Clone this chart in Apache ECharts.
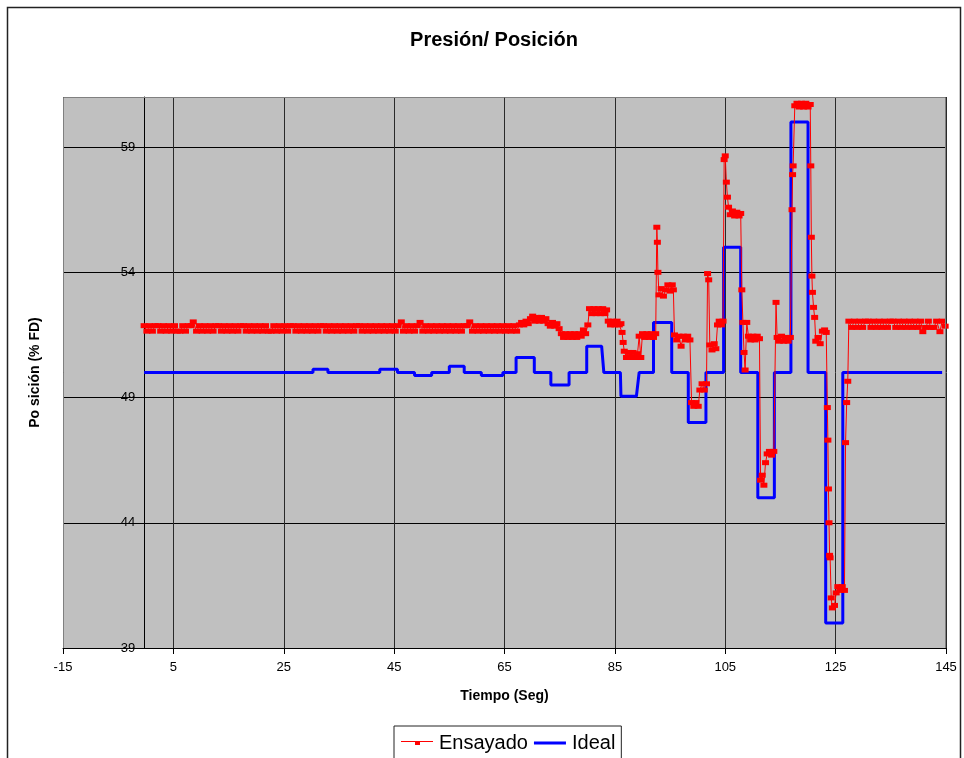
<!DOCTYPE html>
<html>
<head>
<meta charset="utf-8">
<script src="https://cdn.jsdelivr.net/npm/echarts@6/dist/echarts.min.js"></script>
<style>html,body{margin:0;padding:0;background:#fff}#c{width:964px;height:758px}</style>
</head>
<body>
<div id="c"></div>
<script>
// ---- data ----
const xTicks = [-15, 5, 25, 45, 65, 85, 105, 125, 145];
const yTicks = [39, 44, 49, 54, 59];

// Ideal (blue) step trace: [time, value]
const ideal = [
 [-0.3,50],[30.3,50],[30.3,50.13],[33.0,50.13],[33.0,50],[42.4,50],[42.4,50.13],[45.6,50.13],[45.6,50],
 [48.7,50],[48.7,49.88],[51.8,49.88],[51.8,50],[55.0,50],[55.0,50.25],[57.7,50.25],[57.7,50],
 [60.8,50],[60.8,49.88],[64.7,49.88],[64.7,50],[67.1,50],[67.1,50.6],[70.4,50.6],[70.4,50],
 [73.4,50],[73.4,49.5],[76.7,49.5],[76.7,50],[79.9,50],[79.9,51.05],[82.6,51.05],[83.0,50],
 [86.0,50],[86.1,49.05],[88.9,49.05],[89.4,50],[92.0,50],[92.0,52],[95.3,52],[95.3,50],
 [98.3,50],[98.3,48],[101.5,48],[101.5,50],[104.7,50],[104.7,55],[107.8,55],[107.8,50],
 [110.9,50],[110.9,45],[113.9,45],[113.9,50],[116.9,50],[116.9,60],[120.0,60],[120.0,50],
 [123.2,50],[123.2,40],[126.3,40],[126.3,50],[144.3,50]
];

// Ensayado (red) measured trace: [time, value]
const ensayado = [
 [-0.3,51.87],[0.2,51.65],[0.7,51.87],[1.2,51.65],[1.7,51.87],[2.2,51.87],[2.7,51.65],[3.2,51.87],[3.7,51.65],[4.2,51.87],
 [4.7,51.65],[5.2,51.87],[5.7,51.65],[6.2,51.65],[6.7,51.87],[7.2,51.65],[7.7,51.87],[8.2,51.87],[8.6,52.02],[9.2,51.65],
 [9.7,51.87],[10.2,51.65],[10.7,51.87],[11.2,51.65],[11.7,51.87],[12.2,51.65],[12.7,51.87],[13.2,51.87],[13.7,51.65],[14.2,51.87],
 [14.7,51.65],[15.2,51.87],[15.7,51.65],[16.2,51.87],[16.7,51.65],[17.2,51.87],[17.7,51.87],[18.2,51.65],[18.7,51.87],[19.2,51.65],
 [19.7,51.87],[20.2,51.65],[20.7,51.87],[21.2,51.65],[21.7,51.87],[22.2,51.65],[22.7,51.65],[23.2,51.87],[23.7,51.65],[24.2,51.87],
 [24.7,51.65],[25.2,51.87],[25.7,51.65],[26.2,51.87],[26.7,51.87],[27.2,51.65],[27.7,51.87],[28.2,51.65],[28.7,51.87],[29.2,51.65],
 [29.7,51.87],[30.2,51.65],[30.7,51.87],[31.2,51.65],[31.7,51.87],[32.2,51.87],[32.7,51.65],[33.2,51.87],[33.7,51.65],[34.2,51.87],
 [34.7,51.65],[35.2,51.87],[35.7,51.65],[36.2,51.87],[36.7,51.65],[37.2,51.87],[37.7,51.65],[38.2,51.87],[38.7,51.87],[39.2,51.65],
 [39.7,51.87],[40.2,51.65],[40.7,51.87],[41.2,51.65],[41.7,51.87],[42.2,51.65],[42.7,51.87],[43.2,51.65],[43.7,51.87],[44.2,51.65],
 [44.7,51.87],[45.2,51.65],[45.7,51.87],[46.3,52.02],[46.7,51.65],[47.2,51.87],[47.7,51.65],[48.2,51.87],[48.7,51.65],[49.2,51.87],
 [49.7,52.0],[50.2,51.65],[50.7,51.87],[51.2,51.65],[51.7,51.87],[52.2,51.65],[52.7,51.87],[53.2,51.65],[53.7,51.87],[54.2,51.65],
 [54.7,51.87],[55.2,51.65],[55.7,51.87],[56.2,51.65],[56.7,51.87],[57.2,51.65],[57.7,51.87],[58.2,51.87],[58.7,52.02],[59.2,51.65],
 [59.7,51.87],[60.2,51.65],[60.7,51.87],[61.2,51.65],[61.7,51.87],[62.2,51.65],[62.7,51.87],[63.2,51.65],[63.7,51.87],[64.2,51.65],
 [64.7,51.87],[65.2,51.65],[65.7,51.87],[66.2,51.65],[66.7,51.87],[67.2,51.65],
 [67.7,51.9],[68.1,52.0],[68.5,51.9],[68.9,52.05],[69.3,51.95],[69.7,52.15],[70.1,52.25],[70.5,52.05],[70.9,52.2],[71.3,52.05],
 [71.7,52.2],[72.1,52.05],[72.5,52.15],[72.9,51.95],[73.3,51.85],[73.7,52.0],[74.1,51.85],[74.5,51.95],[74.9,51.75],[75.3,51.55],
 [75.7,51.4],[76.1,51.55],[76.5,51.4],[76.9,51.55],[77.3,51.4],[77.7,51.55],[78.1,51.4],[78.5,51.55],[78.9,51.45],[79.3,51.7],
 [79.7,51.55],[80.1,51.9],[80.4,52.55],[80.8,52.35],[81.2,52.55],[81.6,52.35],[82.0,52.55],[82.4,52.35],[82.8,52.55],[83.2,52.35],
 [83.5,52.5],[83.8,52.05],[84.2,51.9],[84.6,52.05],[85.0,51.9],[85.4,52.05],[85.8,51.9],[86.1,51.95],[86.3,51.6],[86.5,51.2],
 [86.7,50.85],[87.1,50.6],[87.5,50.8],[87.9,50.6],[88.3,50.8],[88.7,50.6],[89.1,50.75],[89.4,51.45],[89.7,50.6],[90.0,51.55],
 [90.4,51.4],[90.8,51.55],[91.2,51.4],[91.6,51.55],[92.0,51.4],[92.4,51.55],[92.6,55.8],[92.7,55.2],[92.8,54.0],[93.0,53.1],
 [93.4,53.35],[93.8,53.05],[94.2,53.3],[94.6,53.5],[95.0,53.25],[95.4,53.5],[95.6,53.3],[95.8,51.5],[96.2,51.3],[96.6,51.45],
 [97.0,51.05],[97.4,51.45],[97.8,51.3],[98.2,51.45],[98.6,51.3],[98.9,48.8],[99.3,48.65],[99.7,48.8],[100.1,48.65],[100.4,49.3],
 [100.8,49.55],[101.2,49.3],[101.6,49.55],[101.8,53.95],[102.0,53.7],[102.2,51.1],[102.6,50.9],[103.0,51.15],[103.3,50.95],[103.6,51.9],
 [103.9,52.05],[104.3,51.9],[104.6,52.05],[104.8,58.5],[105.0,58.65],[105.2,57.6],[105.4,57.0],[105.6,56.6],[105.9,56.3],[106.3,56.45],
 [106.7,56.25],[107.1,56.4],[107.5,56.25],[107.8,56.35],[108.0,53.3],[108.2,52.0],[108.4,50.8],[108.6,50.1],[108.9,52.0],[109.2,51.45],
 [109.6,51.3],[110.0,51.45],[110.4,51.3],[110.8,51.45],[111.2,51.35],[111.4,45.7],[111.7,45.9],[112.0,45.5],[112.3,46.4],[112.6,46.75],
 [113.0,46.85],[113.4,46.7],[113.8,46.85],[114.2,52.8],[114.4,51.4],[114.8,51.25],[115.2,51.45],[115.6,51.25],[116.0,51.4],[116.4,51.25],
 [116.8,51.4],[117.1,56.5],[117.2,57.9],[117.3,58.25],[117.6,60.65],[118.0,60.75],[118.4,60.6],[118.8,60.75],[119.2,60.6],[119.6,60.75],
 [120.0,60.6],[120.4,60.7],[120.5,58.25],[120.6,55.4],[120.7,53.85],[120.8,53.2],[121.0,52.6],[121.2,52.2],[121.4,51.25],[121.8,51.4],
 [122.2,51.15],[122.6,51.65],[123.0,51.7],[123.3,51.6],[123.5,48.6],[123.6,47.3],[123.7,45.35],[123.8,44.0],[123.9,42.7],[124.0,42.6],
 [124.2,41.0],[124.4,40.6],[124.8,40.7],[125.1,41.2],[125.4,41.45],[125.8,41.3],[126.2,41.45],[126.6,41.3],[126.8,47.2],[127.0,48.8],
 [127.2,49.65],[127.4,52.05],
 [127.9,51.8],[128.4,52.05],[128.9,51.8],[129.4,52.05],[129.9,51.8],[130.4,52.05],[130.9,52.05],[131.4,51.8],[131.9,52.05],[132.4,51.8],
 [132.9,52.05],[133.4,51.8],[133.9,52.05],[134.4,51.8],[134.9,52.05],[135.4,52.05],[135.9,51.8],[136.4,52.05],[136.9,51.8],[137.4,52.05],
 [137.9,51.8],[138.4,52.05],[138.9,51.8],[139.4,52.05],[139.9,51.8],[140.4,52.05],[140.8,51.63],[141.3,51.8],[141.8,52.05],[142.3,51.8],
 [142.8,51.8],[143.3,52.05],[143.9,51.63],[144.3,52.05],[144.85,51.85]
];

const FONT = "'Liberation Sans', Arial, sans-serif";
const G = {left: 63, top: 97, width: 883, height: 551};

const chart = echarts.init(document.getElementById('c'), null, {renderer: 'canvas'});
chart.setOption({
  animation: false,
  backgroundColor: '#fff',
  textStyle: {fontFamily: FONT},
  grid: {left: G.left, top: G.top, width: G.width, height: G.height, show: true,
         backgroundColor: '#c0c0c0', borderWidth: 0, containLabel: false},
  xAxis: {
    type: 'value', min: xTicks[0], max: xTicks[xTicks.length - 1], interval: xTicks[1] - xTicks[0],
    name: 'Tiempo (Seg)', nameLocation: 'middle', nameGap: 41,
    nameTextStyle: {fontFamily: FONT, fontWeight: 'bold', fontSize: 14, color: '#000'},
    axisLine: {onZero: false, lineStyle: {color: '#000', width: 1}},
    axisTick: {show: true, inside: false, length: 6, lineStyle: {color: '#000'}},
    axisLabel: {fontFamily: FONT, fontSize: 13, color: '#000', margin: 13},
    splitLine: {show: true, lineStyle: {color: '#2a2a2a', width: 1}}
  },
  yAxis: {
    type: 'value', min: yTicks[0], max: 61, interval: yTicks[1] - yTicks[0],
    position: 'left', offset: -81.3,
    name: 'Po sición (% FD)', nameLocation: 'middle', nameGap: 102,
    nameTextStyle: {fontFamily: FONT, fontWeight: 'bold', fontSize: 14, color: '#000'},
    axisLine: {show: true, onZero: false, lineStyle: {color: '#000', width: 1}},
    axisTick: {show: true, inside: false, length: 4, lineStyle: {color: '#000'}},
    axisLabel: {fontFamily: FONT, fontSize: 13, color: '#000', margin: 9, showMaxLabel: false},
    splitLine: {show: true, lineStyle: {color: '#000', width: 1}}
  },
  legend: {
    left: 394, top: 726, orient: 'horizontal',
    data: [
      {name: 'Ensayado', icon: 'path://M0,4 L32,4 L32,5 L0,5 Z M14,5 L19,5 L19,8 L14,8 Z'},
      {name: 'Ideal', icon: 'path://M0,2.5 L32,2.5 L32,5.5 L0,5.5 Z M0,0 L0,0 L0,8 L0,8 Z'}
    ],
    padding: [7, 6, 9, 7], itemGap: 6, itemWidth: 32, itemHeight: 12,
    backgroundColor: '#fff', borderColor: '#222', borderWidth: 1, borderRadius: 0,
    textStyle: {fontFamily: FONT, fontSize: 20, color: '#000', padding: [0, 0, 0, 1]}
  },
  series: [
    {name: 'Ideal', type: 'line', data: ideal, showSymbol: false, symbol: 'none',
     lineStyle: {color: '#0000ff', width: 3}, itemStyle: {color: '#0000ff'}, z: 2},
    {name: 'Ensayado', type: 'line', data: ensayado, symbol: 'rect', symbolSize: [7, 5], showAllSymbol: true,
     lineStyle: {color: '#ff0000', width: 1}, itemStyle: {color: '#ff0000'}, z: 3}
  ],
  graphic: [
    {type: 'rect', z: 0, silent: true, shape: {x: 7.5, y: 7.5, width: 953, height: 820},
     style: {fill: 'none', stroke: '#222', lineWidth: 1.5}},
    {type: 'polyline', z: 100, silent: true,
     shape: {points: [[G.left + 0.5, G.top + G.height], [G.left + 0.5, G.top + 0.5], [G.left + G.width - 0.5, G.top + 0.5], [G.left + G.width - 0.5, G.top + G.height]]},
     style: {fill: 'none', stroke: '#808080', lineWidth: 1}},
    {type: 'text', z: 100, x: 494, y: 40,
     style: {text: 'Presión/ Posición', font: "bold 20px " + FONT, fill: '#000',
             align: 'center', verticalAlign: 'middle', textAlign: 'center', textVerticalAlign: 'middle'}}
  ]
});
</script>
</body>
</html>
